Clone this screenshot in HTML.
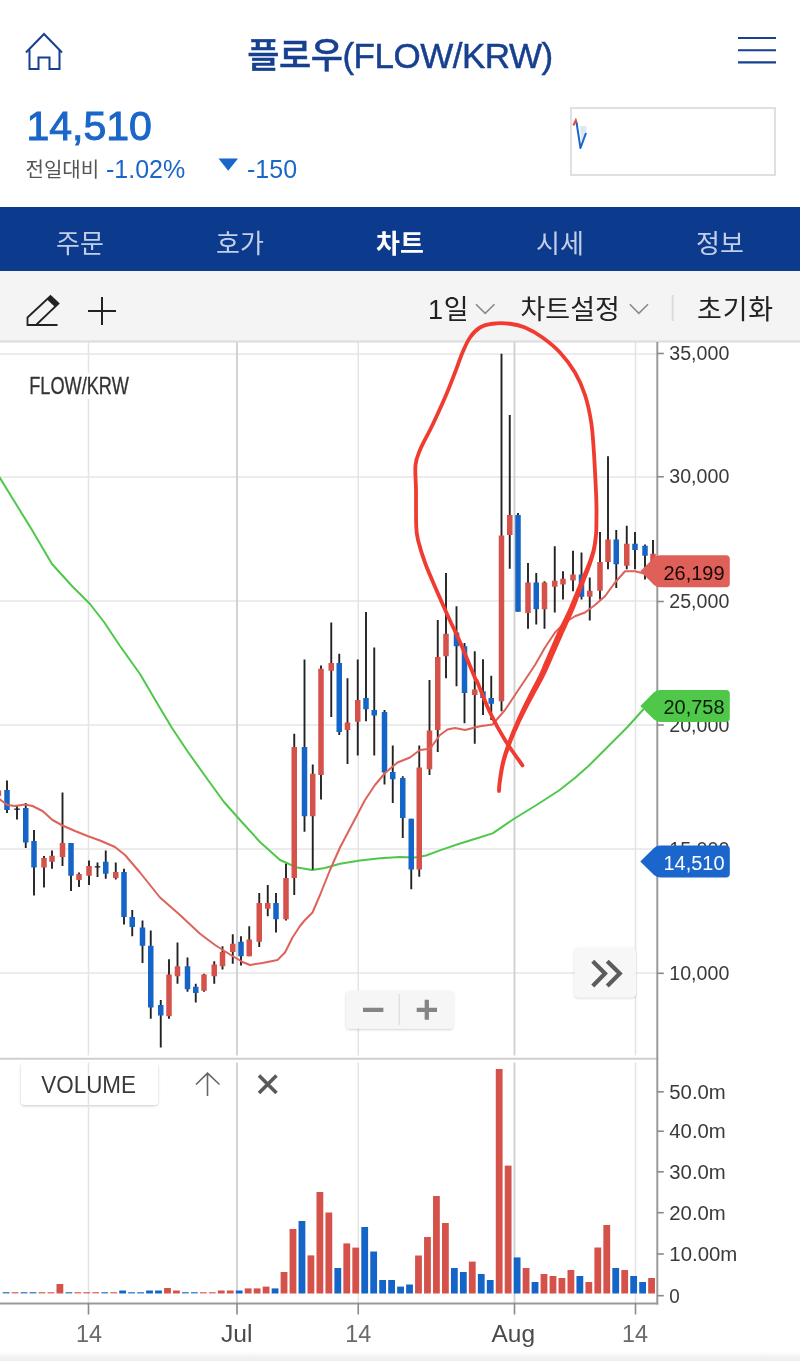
<!DOCTYPE html>
<html lang="ko"><head><meta charset="utf-8"><title>플로우(FLOW/KRW)</title>
<style>
*{margin:0;padding:0;box-sizing:border-box}
html,body{width:800px;height:1361px;background:#fff;overflow:hidden}
body{position:relative;font-family:"Liberation Sans","Noto Sans CJK KR",sans-serif;color:#222}
.abs{position:absolute;white-space:nowrap;line-height:1}
#title{left:0;width:800px;top:37.5px;text-align:center;font-size:35px;color:#17408f;font-weight:500;letter-spacing:-0.5px;-webkit-text-stroke:0.5px #17408f}
#price{left:26.5px;top:106px;font-size:41px;color:#1a66c9;-webkit-text-stroke:1px #1a66c9}
#lbl{left:25.5px;top:159.5px;font-size:20px;color:#555;letter-spacing:0px}
#pct{left:106px;top:157px;font-size:25px;color:#1a66c9}
#chg{left:247px;top:157px;font-size:25px;color:#1a66c9}
#nav{left:0;top:207px;width:800px;height:64px;background:#0c3a8d}
#nav span{position:absolute;top:22.5px;width:160px;text-align:center;font-size:26px;color:#c3cfe8;line-height:1.15}
#nav span.on{color:#fff;font-weight:bold}
#tool{left:0;top:271px;width:800px;height:70px;background:#f4f4f4}
#tool span{position:absolute;top:23.5px;font-size:27px;color:#222;line-height:1.15}
#mini{left:570px;top:107px;width:206px;height:69px;border:2px solid #e0e0e0;background:#fff}
.btn{background:#f6f6f6;border-radius:4px;box-shadow:0 1px 3px rgba(0,0,0,.22)}
#foot{left:0;top:1352px;width:800px;height:9px;background:linear-gradient(#ffffff,#f3f3f3 50%,#eeeeee)}
svg{position:absolute;left:0;top:0}
</style></head><body>
<div class="abs" id="title">플로우(FLOW/KRW)</div>
<div class="abs" id="price">14,510</div>
<div class="abs" id="lbl">전일대비</div>
<div class="abs" id="pct">-1.02%</div>
<div class="abs" id="chg">-150</div>
<div class="abs" id="mini"></div>
<div class="abs" id="nav"><span style="left:0">주문</span><span style="left:160px">호가</span><span class="on" style="left:320px">차트</span><span style="left:480px">시세</span><span style="left:640px">정보</span></div>
<div class="abs" id="tool"><span style="left:428px;letter-spacing:0.8px">1일</span><span style="left:520.5px">차트설정</span><span style="left:697px;letter-spacing:0.8px">초기화</span></div>
<div class="abs btn" style="left:21px;top:1063px;width:137px;height:42px;background:rgba(255,255,255,.82)"></div>
<div class="abs" id="foot"></div>
<svg width="800" height="1361" viewBox="0 0 800 1361">
<!-- header icons -->
<g fill="none" stroke="#17408f" stroke-width="2" stroke-linejoin="miter">
<path d="M26 52.5 L44 34 L62 52.5"/>
<path d="M29.5 50 V69 H38.5 V57.5 H49.5 V69 H59.5 V50"/>
<path d="M738 38 H776 M738 50.2 H776 M738 62.4 H776" stroke-width="2.1"/>
</g>
<path d="M218.5 158.6 H238 L228.2 170.8 Z" fill="#1a66c9"/>
<!-- mini chart -->
<path d="M580 126 H586.5 V133 L582 146 Z" fill="#dbe8f6"/>
<path d="M573.3 125.5 L575.8 120.3 L577 124" stroke="#d5524b" stroke-width="2" fill="none"/>
<path d="M576.6 123 L580.5 148 L586 133" stroke="#1a66c9" stroke-width="2" fill="none" stroke-linejoin="round"/>
<!-- toolbar icons -->
<g fill="none" stroke="#222" stroke-width="2">
<path d="M27.5 325 V317.5 L50.5 296 L58.5 303.5 L36 325 Z M36 325 H57.5" stroke-width="1.8"/>
<path d="M88 311 H116 M102 297 V325"/>
</g>
<path d="M47 299.5 L51 296 L58.5 303.5 L55 307 Z" fill="#222"/>
<g fill="none" stroke="#8a8a8a" stroke-width="1.6">
<path d="M476 304.3 L485.2 313.3 L494.5 304.3"/>
<path d="M629.8 304.3 L638.8 313.3 L648 304.3"/>
</g>
<line x1="672.7" y1="295" x2="672.7" y2="321" stroke="#dcdcdc" stroke-width="2"/>
<line x1="0" y1="354" x2="657" y2="354" stroke="#e6e6e6" stroke-width="1.5"/>
<line x1="0" y1="477" x2="657" y2="477" stroke="#e6e6e6" stroke-width="1.5"/>
<line x1="0" y1="601" x2="657" y2="601" stroke="#e6e6e6" stroke-width="1.5"/>
<line x1="0" y1="725" x2="657" y2="725" stroke="#e6e6e6" stroke-width="1.5"/>
<line x1="0" y1="849" x2="657" y2="849" stroke="#e6e6e6" stroke-width="1.5"/>
<line x1="0" y1="973" x2="657" y2="973" stroke="#e6e6e6" stroke-width="1.5"/>
<line x1="88.5" y1="342" x2="88.5" y2="1303" stroke="#e4e4e4" stroke-width="1.5"/>
<line x1="237" y1="342" x2="237" y2="1303" stroke="#cfcfcf" stroke-width="1.8"/>
<line x1="358.25" y1="342" x2="358.25" y2="1303" stroke="#e4e4e4" stroke-width="1.5"/>
<line x1="514.5" y1="342" x2="514.5" y2="1303" stroke="#cfcfcf" stroke-width="1.8"/>
<line x1="635.5" y1="342" x2="635.5" y2="1303" stroke="#e4e4e4" stroke-width="1.5"/>
<rect x="0" y="1055.5" width="657" height="7" fill="#fff"/>
<line x1="0" y1="1058.8" x2="657" y2="1058.8" stroke="#cfcfcf" stroke-width="2"/>
<line x1="0" y1="341.5" x2="800" y2="341.5" stroke="#dcdcdc" stroke-width="2"/>
<polyline points="-2,475 0,478 16,504 32,530 52,564 72,586 90,604 104,622 120,646 140,674 160,708 172,728 188,752 208,780 224,802 240,820 260,842 280,860 296,867.2 312,870 325,868 340,863.75 360,860.5 380,858.25 400,857 415,857.5 426,855.5 442,849.6 458.5,844 474.7,839 492.6,833.4 513.7,819 536.5,805 559,790.5 575.5,777.5 588.5,766 601.5,753 614.5,740 627.5,727 640.5,712.5 645,707.6" fill="none" stroke="#4fc84a" stroke-width="2" stroke-linejoin="round"/>
<line x1="-1.6" y1="788" x2="-1.6" y2="800" stroke="#222" stroke-width="1.9"/>
<rect x="-4.35" y="790.5" width="5.5" height="5.5" fill="#d5524b"/>
<line x1="7" y1="780.5" x2="7" y2="813" stroke="#222" stroke-width="1.9"/>
<rect x="4.25" y="790" width="5.5" height="20" fill="#1565c8"/>
<line x1="17" y1="806" x2="17" y2="819.5" stroke="#222" stroke-width="1.9"/>
<rect x="14.25" y="808.5" width="5.5" height="1.3" fill="#222"/>
<line x1="25.75" y1="803" x2="25.75" y2="848" stroke="#222" stroke-width="1.9"/>
<rect x="23.0" y="808" width="5.5" height="34.5" fill="#1565c8"/>
<line x1="34" y1="830" x2="34" y2="895.5" stroke="#222" stroke-width="1.9"/>
<rect x="31.25" y="841" width="5.5" height="26.5" fill="#1565c8"/>
<line x1="44" y1="856" x2="44" y2="887.5" stroke="#222" stroke-width="1.9"/>
<rect x="41.25" y="858" width="5.5" height="9.5" fill="#d5524b"/>
<line x1="52" y1="850.5" x2="52" y2="868.75" stroke="#222" stroke-width="1.9"/>
<rect x="49.25" y="855.75" width="5.5" height="6" fill="#d5524b"/>
<line x1="62.5" y1="792.5" x2="62.5" y2="866" stroke="#222" stroke-width="1.9"/>
<rect x="59.75" y="843" width="5.5" height="14" fill="#d5524b"/>
<line x1="71" y1="843" x2="71" y2="891" stroke="#222" stroke-width="1.9"/>
<rect x="68.25" y="843" width="5.5" height="32.75" fill="#1565c8"/>
<line x1="79" y1="872.5" x2="79" y2="887" stroke="#222" stroke-width="1.9"/>
<rect x="76.25" y="874" width="5.5" height="6" fill="#d5524b"/>
<line x1="89" y1="860.5" x2="89" y2="885" stroke="#222" stroke-width="1.9"/>
<rect x="86.25" y="866" width="5.5" height="9.75" fill="#d5524b"/>
<line x1="97.5" y1="862.5" x2="97.5" y2="877" stroke="#222" stroke-width="1.9"/>
<rect x="94.75" y="866.2" width="5.5" height="1.3" fill="#222"/>
<line x1="105.75" y1="850.5" x2="105.75" y2="878.75" stroke="#222" stroke-width="1.9"/>
<rect x="103.0" y="861.75" width="5.5" height="12" fill="#1565c8"/>
<line x1="115.75" y1="862.5" x2="115.75" y2="879.5" stroke="#222" stroke-width="1.9"/>
<rect x="113.0" y="872" width="5.5" height="6" fill="#d5524b"/>
<line x1="124" y1="868.75" x2="124" y2="924.5" stroke="#222" stroke-width="1.9"/>
<rect x="121.25" y="872" width="5.5" height="45" fill="#1565c8"/>
<line x1="132.25" y1="910" x2="132.25" y2="936.25" stroke="#222" stroke-width="1.9"/>
<rect x="129.5" y="917" width="5.5" height="10" fill="#1565c8"/>
<line x1="142.5" y1="920.5" x2="142.5" y2="963" stroke="#222" stroke-width="1.9"/>
<rect x="139.75" y="927.5" width="5.5" height="18.25" fill="#1565c8"/>
<line x1="150.75" y1="930.5" x2="150.75" y2="1018.75" stroke="#222" stroke-width="1.9"/>
<rect x="148.0" y="945.75" width="5.5" height="61.75" fill="#1565c8"/>
<line x1="160.75" y1="1000" x2="160.75" y2="1047.5" stroke="#222" stroke-width="1.9"/>
<rect x="158.0" y="1005" width="5.5" height="10.5" fill="#1565c8"/>
<line x1="169" y1="959.25" x2="169" y2="1018.75" stroke="#222" stroke-width="1.9"/>
<rect x="166.25" y="974.5" width="5.5" height="41.75" fill="#d5524b"/>
<line x1="177.5" y1="942.5" x2="177.5" y2="983.75" stroke="#222" stroke-width="1.9"/>
<rect x="174.75" y="966.25" width="5.5" height="10" fill="#d5524b"/>
<line x1="187.5" y1="957.5" x2="187.5" y2="991.75" stroke="#222" stroke-width="1.9"/>
<rect x="184.75" y="966.25" width="5.5" height="23" fill="#1565c8"/>
<line x1="195.75" y1="983.75" x2="195.75" y2="1002.5" stroke="#222" stroke-width="1.9"/>
<rect x="193.0" y="986.75" width="5.5" height="6.25" fill="#1565c8"/>
<line x1="204" y1="973.75" x2="204" y2="991.75" stroke="#222" stroke-width="1.9"/>
<rect x="201.25" y="974.5" width="5.5" height="16.25" fill="#d5524b"/>
<line x1="214.25" y1="961.25" x2="214.25" y2="983.75" stroke="#222" stroke-width="1.9"/>
<rect x="211.5" y="964.5" width="5.5" height="11.75" fill="#d5524b"/>
<line x1="222.5" y1="946.25" x2="222.5" y2="969.5" stroke="#222" stroke-width="1.9"/>
<rect x="219.75" y="952" width="5.5" height="14.25" fill="#d5524b"/>
<line x1="232.75" y1="934.25" x2="232.75" y2="963.75" stroke="#222" stroke-width="1.9"/>
<rect x="230.0" y="943.75" width="5.5" height="8.25" fill="#d5524b"/>
<line x1="241" y1="936.25" x2="241" y2="965.5" stroke="#222" stroke-width="1.9"/>
<rect x="238.25" y="941.75" width="5.5" height="14.5" fill="#1565c8"/>
<line x1="249.25" y1="926.25" x2="249.25" y2="956.25" stroke="#222" stroke-width="1.9"/>
<rect x="246.5" y="939.5" width="5.5" height="16.75" fill="#d5524b"/>
<line x1="259.25" y1="893" x2="259.25" y2="947" stroke="#222" stroke-width="1.9"/>
<rect x="256.5" y="903" width="5.5" height="38.75" fill="#d5524b"/>
<line x1="267.75" y1="885" x2="267.75" y2="916.25" stroke="#222" stroke-width="1.9"/>
<rect x="265.0" y="903" width="5.5" height="5.75" fill="#d5524b"/>
<line x1="276" y1="893" x2="276" y2="932.5" stroke="#222" stroke-width="1.9"/>
<rect x="273.25" y="903" width="5.5" height="16.25" fill="#1565c8"/>
<line x1="286" y1="863.75" x2="286" y2="920.5" stroke="#222" stroke-width="1.9"/>
<rect x="283.25" y="878" width="5.5" height="41.25" fill="#d5524b"/>
<line x1="294.25" y1="733.75" x2="294.25" y2="895" stroke="#222" stroke-width="1.9"/>
<rect x="291.5" y="747" width="5.5" height="131" fill="#d5524b"/>
<line x1="304.5" y1="659.5" x2="304.5" y2="831.75" stroke="#222" stroke-width="1.9"/>
<rect x="301.75" y="747" width="5.5" height="69.25" fill="#1565c8"/>
<line x1="312.75" y1="764.5" x2="312.75" y2="869.5" stroke="#222" stroke-width="1.9"/>
<rect x="310.0" y="773.75" width="5.5" height="42.5" fill="#d5524b"/>
<line x1="321" y1="665.5" x2="321" y2="799.5" stroke="#222" stroke-width="1.9"/>
<rect x="318.25" y="668.75" width="5.5" height="106.25" fill="#d5524b"/>
<line x1="331.25" y1="622.5" x2="331.25" y2="717" stroke="#222" stroke-width="1.9"/>
<rect x="328.5" y="663" width="5.5" height="7.75" fill="#d5524b"/>
<line x1="339.25" y1="653.75" x2="339.25" y2="735" stroke="#222" stroke-width="1.9"/>
<rect x="336.5" y="663" width="5.5" height="69" fill="#1565c8"/>
<line x1="347.5" y1="678.25" x2="347.5" y2="764" stroke="#222" stroke-width="1.9"/>
<rect x="344.75" y="722.5" width="5.5" height="7.5" fill="#d5524b"/>
<line x1="357.75" y1="659.5" x2="357.75" y2="755.5" stroke="#222" stroke-width="1.9"/>
<rect x="355.0" y="700" width="5.5" height="21.75" fill="#d5524b"/>
<line x1="366" y1="612" x2="366" y2="721.25" stroke="#222" stroke-width="1.9"/>
<rect x="363.25" y="698" width="5.5" height="11.25" fill="#1565c8"/>
<line x1="374.25" y1="647.5" x2="374.25" y2="755.5" stroke="#222" stroke-width="1.9"/>
<rect x="371.5" y="710" width="5.5" height="5.5" fill="#1565c8"/>
<line x1="384.5" y1="710" x2="384.5" y2="784.5" stroke="#222" stroke-width="1.9"/>
<rect x="381.75" y="712" width="5.5" height="60.5" fill="#1565c8"/>
<line x1="392.75" y1="745.5" x2="392.75" y2="803" stroke="#222" stroke-width="1.9"/>
<rect x="390.0" y="772" width="5.5" height="7.25" fill="#1565c8"/>
<line x1="402.75" y1="776.25" x2="402.75" y2="838" stroke="#222" stroke-width="1.9"/>
<rect x="400.0" y="778" width="5.5" height="40" fill="#1565c8"/>
<line x1="411.25" y1="818.75" x2="411.25" y2="889.25" stroke="#222" stroke-width="1.9"/>
<rect x="408.5" y="818.75" width="5.5" height="50.75" fill="#1565c8"/>
<line x1="419.25" y1="745.5" x2="419.25" y2="876.75" stroke="#222" stroke-width="1.9"/>
<rect x="416.5" y="767.5" width="5.5" height="102" fill="#d5524b"/>
<line x1="429.5" y1="680" x2="429.5" y2="775" stroke="#222" stroke-width="1.9"/>
<rect x="426.75" y="730.5" width="5.5" height="38.75" fill="#d5524b"/>
<line x1="437.75" y1="620" x2="437.75" y2="752" stroke="#222" stroke-width="1.9"/>
<rect x="435.0" y="657" width="5.5" height="73" fill="#d5524b"/>
<line x1="446" y1="573" x2="446" y2="678.25" stroke="#222" stroke-width="1.9"/>
<rect x="443.25" y="633.75" width="5.5" height="22.5" fill="#d5524b"/>
<line x1="456.5" y1="606.25" x2="456.5" y2="686.25" stroke="#222" stroke-width="1.9"/>
<rect x="453.75" y="632.5" width="5.5" height="13.75" fill="#1565c8"/>
<line x1="464.5" y1="643" x2="464.5" y2="723.25" stroke="#222" stroke-width="1.9"/>
<rect x="461.75" y="646.25" width="5.5" height="46.75" fill="#1565c8"/>
<line x1="474.75" y1="651.25" x2="474.75" y2="743.75" stroke="#222" stroke-width="1.9"/>
<rect x="472.0" y="689.5" width="5.5" height="5.5" fill="#d5524b"/>
<line x1="483" y1="659.25" x2="483" y2="715" stroke="#222" stroke-width="1.9"/>
<rect x="480.25" y="691.25" width="5.5" height="6.75" fill="#1565c8"/>
<line x1="491.25" y1="675.75" x2="491.25" y2="720" stroke="#222" stroke-width="1.9"/>
<rect x="488.5" y="698" width="5.5" height="5.75" fill="#1565c8"/>
<line x1="501.5" y1="353.75" x2="501.5" y2="711.25" stroke="#222" stroke-width="1.9"/>
<rect x="498.75" y="535.5" width="5.5" height="165.75" fill="#d5524b"/>
<line x1="509.75" y1="415" x2="509.75" y2="568.75" stroke="#222" stroke-width="1.9"/>
<rect x="507.0" y="515" width="5.5" height="20" fill="#d5524b"/>
<line x1="518" y1="513" x2="518" y2="611.75" stroke="#222" stroke-width="1.9"/>
<rect x="515.25" y="515" width="5.5" height="96.75" fill="#1565c8"/>
<line x1="528" y1="563" x2="528" y2="628.75" stroke="#222" stroke-width="1.9"/>
<rect x="525.25" y="582.5" width="5.5" height="30.5" fill="#d5524b"/>
<line x1="536.25" y1="573" x2="536.25" y2="624.5" stroke="#222" stroke-width="1.9"/>
<rect x="533.5" y="582.5" width="5.5" height="26.75" fill="#1565c8"/>
<line x1="544.5" y1="581.25" x2="544.5" y2="628.75" stroke="#222" stroke-width="1.9"/>
<rect x="541.75" y="582.5" width="5.5" height="26.75" fill="#d5524b"/>
<line x1="554.75" y1="546.25" x2="554.75" y2="612.5" stroke="#222" stroke-width="1.9"/>
<rect x="552.0" y="580.75" width="5.5" height="6" fill="#d5524b"/>
<line x1="563" y1="571.25" x2="563" y2="599.5" stroke="#222" stroke-width="1.9"/>
<rect x="560.25" y="578.75" width="5.5" height="5.75" fill="#d5524b"/>
<line x1="573" y1="550.75" x2="573" y2="591.25" stroke="#222" stroke-width="1.9"/>
<rect x="570.25" y="574.5" width="5.5" height="6" fill="#d5524b"/>
<line x1="581.5" y1="552.5" x2="581.5" y2="599.5" stroke="#222" stroke-width="1.9"/>
<rect x="578.75" y="574.5" width="5.5" height="22.25" fill="#1565c8"/>
<line x1="589.75" y1="577.5" x2="589.75" y2="620.5" stroke="#222" stroke-width="1.9"/>
<rect x="587.0" y="590.75" width="5.5" height="6" fill="#d5524b"/>
<line x1="600" y1="532" x2="600" y2="599.5" stroke="#222" stroke-width="1.9"/>
<rect x="597.25" y="562" width="5.5" height="28.75" fill="#d5524b"/>
<line x1="608" y1="456.25" x2="608" y2="569.25" stroke="#222" stroke-width="1.9"/>
<rect x="605.25" y="539.5" width="5.5" height="22.5" fill="#d5524b"/>
<line x1="616.25" y1="530" x2="616.25" y2="588" stroke="#222" stroke-width="1.9"/>
<rect x="613.5" y="539.5" width="5.5" height="24.75" fill="#1565c8"/>
<line x1="626.75" y1="525.75" x2="626.75" y2="569.25" stroke="#222" stroke-width="1.9"/>
<rect x="624.0" y="543.75" width="5.5" height="22" fill="#d5524b"/>
<line x1="635" y1="532" x2="635" y2="569.25" stroke="#222" stroke-width="1.9"/>
<rect x="632.25" y="543.75" width="5.5" height="6.25" fill="#1565c8"/>
<line x1="645" y1="544.5" x2="645" y2="579.5" stroke="#222" stroke-width="1.9"/>
<rect x="642.25" y="545.75" width="5.5" height="10" fill="#1565c8"/>
<line x1="653" y1="540" x2="653" y2="575" stroke="#222" stroke-width="1.9"/>
<rect x="650.25" y="553.75" width="5.5" height="18.25" fill="#d5524b"/>
<polyline points="-2,798 0,799.5 7.5,805 15,806 25,804.5 32.5,806 42.5,811 52.5,820 62.5,825.5 75,831 87.5,836 100,840.5 115,847 125,855 140,872.5 150,885 160,897.5 180,915 200,933.75 215,945 230,954.5 242.5,962 250,965 262.5,963 277.5,960 285,952.5 292.5,937.5 300,926 305,920 312.5,912.5 320,895 330,870 340,847.5 352.5,823.75 365,800 375,785 385,773 397.5,762.5 410,757.5 420,750 430,748.75 440,735 447.5,729.5 455,728 465,730 480,726.25 492.5,724.5 505,710 515,695 525,680 535,665 545,647.5 555,632.5 565,622.5 575,616.25 585,612.5 595,605 605,596.25 615,582.5 625,571.25 635,571.25 645,573.75 652,572" fill="none" stroke="#de6259" stroke-width="2" stroke-linejoin="round"/>
<rect x="2.70" y="1292" width="6.8" height="1.5" fill="#1565c8" opacity="0.75"/>
<rect x="11.66" y="1292" width="6.8" height="1.5" fill="#d5524b" opacity="0.75"/>
<rect x="20.63" y="1292" width="6.8" height="1.5" fill="#1565c8" opacity="0.75"/>
<rect x="29.59" y="1292" width="6.8" height="1.5" fill="#1565c8" opacity="0.75"/>
<rect x="38.56" y="1292" width="6.8" height="1.5" fill="#d5524b" opacity="0.75"/>
<rect x="47.53" y="1292" width="6.8" height="1.5" fill="#d5524b" opacity="0.75"/>
<rect x="56.49" y="1284" width="6.8" height="9.5" fill="#d5524b"/>
<rect x="65.45" y="1292" width="6.8" height="1.5" fill="#1565c8" opacity="0.75"/>
<rect x="74.42" y="1292" width="6.8" height="1.5" fill="#d5524b" opacity="0.75"/>
<rect x="83.38" y="1292" width="6.8" height="1.5" fill="#d5524b" opacity="0.75"/>
<rect x="92.35" y="1292" width="6.8" height="1.5" fill="#d5524b" opacity="0.75"/>
<rect x="101.31" y="1292" width="6.8" height="1.5" fill="#1565c8" opacity="0.75"/>
<rect x="110.28" y="1292" width="6.8" height="1.5" fill="#d5524b" opacity="0.75"/>
<rect x="119.24" y="1290.5" width="6.8" height="3" fill="#1565c8"/>
<rect x="128.21" y="1292" width="6.8" height="1.5" fill="#1565c8" opacity="0.75"/>
<rect x="137.17" y="1292" width="6.8" height="1.5" fill="#1565c8" opacity="0.75"/>
<rect x="146.14" y="1290.5" width="6.8" height="3" fill="#1565c8"/>
<rect x="155.10" y="1290.5" width="6.8" height="3" fill="#1565c8"/>
<rect x="164.07" y="1288" width="6.8" height="5.5" fill="#d5524b"/>
<rect x="173.03" y="1290.5" width="6.8" height="3" fill="#d5524b"/>
<rect x="182.00" y="1292" width="6.8" height="1.5" fill="#1565c8" opacity="0.75"/>
<rect x="190.96" y="1292" width="6.8" height="1.5" fill="#1565c8" opacity="0.75"/>
<rect x="199.93" y="1292" width="6.8" height="1.5" fill="#d5524b" opacity="0.75"/>
<rect x="208.89" y="1292" width="6.8" height="1.5" fill="#d5524b" opacity="0.75"/>
<rect x="217.86" y="1290.5" width="6.8" height="3" fill="#d5524b"/>
<rect x="226.82" y="1290.5" width="6.8" height="3" fill="#d5524b"/>
<rect x="235.79" y="1290.5" width="6.8" height="3" fill="#1565c8"/>
<rect x="244.75" y="1288.4" width="6.8" height="5.1" fill="#d5524b"/>
<rect x="253.72" y="1288.4" width="6.8" height="5.1" fill="#d5524b"/>
<rect x="262.69" y="1286.6" width="6.8" height="6.9" fill="#d5524b"/>
<rect x="271.65" y="1288.4" width="6.8" height="5.1" fill="#1565c8"/>
<rect x="280.62" y="1272" width="6.8" height="21.5" fill="#d5524b"/>
<rect x="289.58" y="1229" width="6.8" height="64.5" fill="#d5524b"/>
<rect x="298.55" y="1221" width="6.8" height="72.5" fill="#1565c8"/>
<rect x="307.51" y="1255.4" width="6.8" height="38.1" fill="#d5524b"/>
<rect x="316.48" y="1192" width="6.8" height="101.5" fill="#d5524b"/>
<rect x="325.44" y="1212.5" width="6.8" height="81" fill="#d5524b"/>
<rect x="334.41" y="1268" width="6.8" height="25.5" fill="#1565c8"/>
<rect x="343.37" y="1243.4" width="6.8" height="50.1" fill="#d5524b"/>
<rect x="352.34" y="1247.6" width="6.8" height="45.9" fill="#d5524b"/>
<rect x="361.30" y="1227" width="6.8" height="66.5" fill="#1565c8"/>
<rect x="370.27" y="1251.5" width="6.8" height="42" fill="#1565c8"/>
<rect x="379.23" y="1280" width="6.8" height="13.5" fill="#1565c8"/>
<rect x="388.20" y="1280" width="6.8" height="13.5" fill="#1565c8"/>
<rect x="397.16" y="1286.6" width="6.8" height="6.9" fill="#1565c8"/>
<rect x="406.13" y="1284.5" width="6.8" height="9" fill="#1565c8"/>
<rect x="415.09" y="1255.5" width="6.8" height="38" fill="#d5524b"/>
<rect x="424.06" y="1237" width="6.8" height="56.5" fill="#d5524b"/>
<rect x="433.02" y="1196" width="6.8" height="97.5" fill="#d5524b"/>
<rect x="441.99" y="1223" width="6.8" height="70.5" fill="#d5524b"/>
<rect x="450.95" y="1268" width="6.8" height="25.5" fill="#1565c8"/>
<rect x="459.92" y="1272" width="6.8" height="21.5" fill="#1565c8"/>
<rect x="468.88" y="1261.6" width="6.8" height="31.9" fill="#d5524b"/>
<rect x="477.85" y="1274" width="6.8" height="19.5" fill="#1565c8"/>
<rect x="486.81" y="1280" width="6.8" height="13.5" fill="#1565c8"/>
<rect x="495.78" y="1069" width="6.8" height="224.5" fill="#d5524b"/>
<rect x="504.74" y="1165.6" width="6.8" height="127.9" fill="#d5524b"/>
<rect x="513.71" y="1257.4" width="6.8" height="36.1" fill="#1565c8"/>
<rect x="522.67" y="1268" width="6.8" height="25.5" fill="#d5524b"/>
<rect x="531.63" y="1282" width="6.8" height="11.5" fill="#1565c8"/>
<rect x="540.60" y="1274" width="6.8" height="19.5" fill="#d5524b"/>
<rect x="549.57" y="1276" width="6.8" height="17.5" fill="#d5524b"/>
<rect x="558.53" y="1278" width="6.8" height="15.5" fill="#d5524b"/>
<rect x="567.50" y="1270" width="6.8" height="23.5" fill="#d5524b"/>
<rect x="576.46" y="1276" width="6.8" height="17.5" fill="#1565c8"/>
<rect x="585.43" y="1282" width="6.8" height="11.5" fill="#d5524b"/>
<rect x="594.39" y="1247.5" width="6.8" height="46" fill="#d5524b"/>
<rect x="603.36" y="1225" width="6.8" height="68.5" fill="#d5524b"/>
<rect x="612.32" y="1268" width="6.8" height="25.5" fill="#1565c8"/>
<rect x="621.29" y="1270" width="6.8" height="23.5" fill="#d5524b"/>
<rect x="630.25" y="1276" width="6.8" height="17.5" fill="#1565c8"/>
<rect x="639.22" y="1282" width="6.8" height="11.5" fill="#1565c8"/>
<rect x="648.18" y="1278" width="6.8" height="15.5" fill="#d5524b"/>
<line x1="657.3" y1="342" x2="657.3" y2="1304.5" stroke="#9a9a9a" stroke-width="2"/>
<line x1="0" y1="1303.6" x2="658.3" y2="1303.6" stroke="#9a9a9a" stroke-width="2"/>
<line x1="88.5" y1="1303" x2="88.5" y2="1314.5" stroke="#8a8a8a" stroke-width="1.6"/>
<line x1="237" y1="1303" x2="237" y2="1314.5" stroke="#8a8a8a" stroke-width="1.6"/>
<line x1="358.25" y1="1303" x2="358.25" y2="1314.5" stroke="#8a8a8a" stroke-width="1.6"/>
<line x1="514.5" y1="1303" x2="514.5" y2="1314.5" stroke="#8a8a8a" stroke-width="1.6"/>
<line x1="635.5" y1="1303" x2="635.5" y2="1314.5" stroke="#8a8a8a" stroke-width="1.6"/>
<line x1="657" y1="353.5" x2="663.8" y2="353.5" stroke="#8a8a8a" stroke-width="1.6"/>
<line x1="657" y1="476.8" x2="663.8" y2="476.8" stroke="#8a8a8a" stroke-width="1.6"/>
<line x1="657" y1="601.5" x2="663.8" y2="601.5" stroke="#8a8a8a" stroke-width="1.6"/>
<line x1="657" y1="725" x2="663.8" y2="725" stroke="#8a8a8a" stroke-width="1.6"/>
<line x1="657" y1="849" x2="663.8" y2="849" stroke="#8a8a8a" stroke-width="1.6"/>
<line x1="657" y1="973.3" x2="663.8" y2="973.3" stroke="#8a8a8a" stroke-width="1.6"/>
<line x1="657" y1="1091.8" x2="663.8" y2="1091.8" stroke="#8a8a8a" stroke-width="1.6"/>
<line x1="657" y1="1131.2" x2="663.8" y2="1131.2" stroke="#8a8a8a" stroke-width="1.6"/>
<line x1="657" y1="1171.8" x2="663.8" y2="1171.8" stroke="#8a8a8a" stroke-width="1.6"/>
<line x1="657" y1="1212.7" x2="663.8" y2="1212.7" stroke="#8a8a8a" stroke-width="1.6"/>
<line x1="657" y1="1254" x2="663.8" y2="1254" stroke="#8a8a8a" stroke-width="1.6"/>
<line x1="657" y1="1295.7" x2="663.8" y2="1295.7" stroke="#8a8a8a" stroke-width="1.6"/>
<text x="669.3" y="360.1" font-family="Liberation Sans, sans-serif" font-size="19.6" fill="#3a3a3a" textLength="60" lengthAdjust="spacingAndGlyphs">35,000</text>
<text x="669.3" y="483.1" font-family="Liberation Sans, sans-serif" font-size="19.6" fill="#3a3a3a" textLength="60" lengthAdjust="spacingAndGlyphs">30,000</text>
<text x="669.3" y="608.4" font-family="Liberation Sans, sans-serif" font-size="19.6" fill="#3a3a3a" textLength="60" lengthAdjust="spacingAndGlyphs">25,000</text>
<text x="669.3" y="732.1" font-family="Liberation Sans, sans-serif" font-size="19.6" fill="#3a3a3a" textLength="60" lengthAdjust="spacingAndGlyphs">20,000</text>
<text x="669.3" y="856.1" font-family="Liberation Sans, sans-serif" font-size="19.6" fill="#3a3a3a" textLength="60" lengthAdjust="spacingAndGlyphs">15,000</text>
<text x="669.3" y="979.9" font-family="Liberation Sans, sans-serif" font-size="19.6" fill="#3a3a3a" textLength="60" lengthAdjust="spacingAndGlyphs">10,000</text>
<text x="669.3" y="1098.8" font-family="Liberation Sans, sans-serif" font-size="19.6" fill="#3a3a3a" textLength="56.5" lengthAdjust="spacingAndGlyphs">50.0m</text>
<text x="669.3" y="1138.2" font-family="Liberation Sans, sans-serif" font-size="19.6" fill="#3a3a3a" textLength="56.5" lengthAdjust="spacingAndGlyphs">40.0m</text>
<text x="669.3" y="1178.8" font-family="Liberation Sans, sans-serif" font-size="19.6" fill="#3a3a3a" textLength="56.5" lengthAdjust="spacingAndGlyphs">30.0m</text>
<text x="669.3" y="1219.7" font-family="Liberation Sans, sans-serif" font-size="19.6" fill="#3a3a3a" textLength="56.5" lengthAdjust="spacingAndGlyphs">20.0m</text>
<text x="669.3" y="1261" font-family="Liberation Sans, sans-serif" font-size="19.6" fill="#3a3a3a" textLength="68" lengthAdjust="spacingAndGlyphs">10.00m</text>
<text x="669.3" y="1302.7" font-family="Liberation Sans, sans-serif" font-size="19.6" fill="#3a3a3a" textLength="10.5" lengthAdjust="spacingAndGlyphs">0</text>
<text x="76" y="1341.5" font-family="Liberation Sans, sans-serif" font-size="23.3" fill="#6a6a6a" textLength="26" lengthAdjust="spacingAndGlyphs">14</text>
<text x="220.95" y="1341.5" font-family="Liberation Sans, sans-serif" font-size="23.3" fill="#4a4a4a" textLength="31.5" lengthAdjust="spacingAndGlyphs">Jul</text>
<text x="345.2" y="1341.5" font-family="Liberation Sans, sans-serif" font-size="23.3" fill="#6a6a6a" textLength="26" lengthAdjust="spacingAndGlyphs">14</text>
<text x="491.55" y="1341.5" font-family="Liberation Sans, sans-serif" font-size="23.3" fill="#4a4a4a" textLength="43.5" lengthAdjust="spacingAndGlyphs">Aug</text>
<text x="622" y="1341.5" font-family="Liberation Sans, sans-serif" font-size="23.3" fill="#6a6a6a" textLength="26" lengthAdjust="spacingAndGlyphs">14</text>
<rect x="26" y="373" width="106" height="26" fill="#fff" fill-opacity="0.8"/>
<text x="29.2" y="393.8" font-family="Liberation Sans, sans-serif" font-size="23.6" fill="#333" stroke="#333" stroke-width="0.3" textLength="99.6" lengthAdjust="spacingAndGlyphs">FLOW/KRW</text>
<path d="M640.3 705.9 L654 692.3 Q656.4 689.9 660.5 689.9 L726 689.9 Q729.8 689.9 729.8 693.7 L729.8 718.1 Q729.8 721.9 726 721.9 L660.5 721.9 Q656.4 721.9 654 719.5 Z" fill="#4fc84a"/>
<text x="663.5" y="714.2" font-family="Liberation Sans, sans-serif" font-size="19.7" fill="#0a1a0a" textLength="61" lengthAdjust="spacingAndGlyphs">20,758</text>
<path d="M640.3 861.5 L654 847.9 Q656.4 845.5 660.5 845.5 L726 845.5 Q729.8 845.5 729.8 849.3 L729.8 873.7 Q729.8 877.5 726 877.5 L660.5 877.5 Q656.4 877.5 654 875.1 Z" fill="#1a66cc"/>
<text x="663.5" y="869.8" font-family="Liberation Sans, sans-serif" font-size="19.7" fill="#fff" textLength="61" lengthAdjust="spacingAndGlyphs">14,510</text>
<path d="M640.3 571.3 L654 557.7 Q656.4 555.3 660.5 555.3 L726 555.3 Q729.8 555.3 729.8 559.1 L729.8 583.5 Q729.8 587.3 726 587.3 L660.5 587.3 Q656.4 587.3 654 584.9 Z" fill="#df6058"/>
<text x="663.5" y="579.6" font-family="Liberation Sans, sans-serif" font-size="19.7" fill="#1a0606" textLength="61" lengthAdjust="spacingAndGlyphs">26,199</text>
<!-- volume label / buttons -->
<text x="41.3" y="1092.8" font-family="Liberation Sans, sans-serif" font-size="24.3" fill="#3a3a3a" textLength="94.7" lengthAdjust="spacingAndGlyphs">VOLUME</text>
<g fill="none" stroke="#666" stroke-width="1.6"><path d="M207.5 1073.5 V1096 M196 1084.5 L207.5 1073.2 L219.5 1084.5"/></g>
<path d="M259 1075.5 L276.5 1093 M276.5 1075.5 L259 1093" stroke="#5a5a5a" stroke-width="3.6" fill="none"/>
<defs><filter id="sh" x="-10%" y="-10%" width="120%" height="135%"><feDropShadow dx="0" dy="1" stdDeviation="1.1" flood-color="#000" flood-opacity="0.2"/></filter></defs>
<rect x="346" y="990.5" width="107.3" height="38.3" rx="4" fill="#f7f7f7" fill-opacity="0.96" filter="url(#sh)"/>
<rect x="574.4" y="947.5" width="61.6" height="49.8" rx="4" fill="#f8f8f8" fill-opacity="0.97" filter="url(#sh)"/>
<line x1="399.3" y1="994" x2="399.3" y2="1025" stroke="#e0e0e0" stroke-width="1.5"/>
<path d="M363 1009.8 H383.4 M416.7 1009.8 H437 M426.8 999.8 V1019.8" stroke="#858585" stroke-width="4.3" fill="none"/>
<path d="M592.75 961.25 L605 973.5 L592.75 986 M607.25 961.25 L619.75 973.5 L607.25 986" stroke="#5c5c5c" stroke-width="4.2" fill="none"/>
<path d="M522.5 765.5 C519.6 761.2 510.4 748.8 505 740 C499.6 731.2 494.6 722.1 490 712.5 C485.4 702.9 480.0 688.2 477.5 682.5 C475.0 676.8 477.9 684.8 475 678 C472.1 671.2 464.2 651.8 460 642 C455.8 632.2 453.2 627.8 449.5 619.5 C445.8 611.2 441.5 601.8 437.5 592.5 C433.5 583.2 428.8 572.8 425.5 564 C422.2 555.2 419.6 546.5 418 540 C416.4 533.5 416.5 533.3 416.2 525 C415.9 516.7 416.1 500.0 416 490 C415.9 480.0 414.8 471.7 415.5 465 C416.2 458.3 417.2 456.7 420 450 C422.8 443.3 428.3 433.8 432.5 425 C436.7 416.2 441.2 406.2 445 397.5 C448.8 388.8 452.1 380.0 455 372.5 C457.9 365.0 460.0 358.3 462.5 352.5 C465.0 346.7 467.1 341.7 470 337.5 C472.9 333.3 476.2 329.8 480 327.5 C483.8 325.2 487.5 324.4 492.5 323.75 C497.5 323.1 504.6 323.1 510 323.75 C515.4 324.4 519.6 325.2 525 327.5 C530.4 329.8 536.7 333.3 542.5 337.5 C548.3 341.7 554.6 346.7 560 352.5 C565.4 358.3 570.8 365.4 575 372.5 C579.2 379.6 582.3 386.7 585 395 C587.7 403.3 589.8 413.3 591.25 422.5 C592.7 431.7 593.0 439.6 593.75 450 C594.5 460.4 595.2 475.3 595.7 485 C596.2 494.7 596.4 500.2 596.5 508 C596.6 515.8 596.3 528.0 596.3 532" fill="none" stroke="#f03c30" stroke-width="3.8" stroke-linecap="round" stroke-linejoin="round"/>
<path d="M594.4 531.8 L594.3 533.0 L594.1 534.7 L593.8 536.7 L593.6 538.8 L593.3 541.1 L593.0 543.4 L592.6 545.6 L592.2 547.6 L591.8 549.4 L591.4 551.2 L590.9 552.8 L590.4 554.5 L589.8 556.3 L589.2 558.1 L588.5 560.1 L587.7 562.3 L586.8 564.6 L585.8 567.1 L584.7 569.7 L583.5 572.5 L582.3 575.3 L581.1 578.2 L579.8 581.1 L578.6 584.0 L577.4 587.0 L576.1 590.1 L574.9 593.2 L573.6 596.3 L572.3 599.5 L571.0 602.6 L569.7 605.8 L568.3 608.9 L567.0 611.9 L565.5 615.0 L564.1 618.0 L562.6 621.1 L561.1 624.1 L559.6 627.3 L558.1 630.5 L556.6 633.7 L555.1 637.1 L553.5 640.7 L551.9 644.4 L550.3 648.2 L548.7 651.8 L547.2 655.2 L545.9 658.4 L544.6 661.2 L543.6 663.6 L542.8 665.5 L542.2 667.0 L541.7 668.4 L541.1 669.7 L540.4 671.3 L539.5 673.2 L538.3 675.7 L536.8 678.7 L535.0 682.2 L533.0 686.1 L530.9 690.1 L528.7 694.3 L526.6 698.5 L524.5 702.5 L522.7 706.3 L520.9 710.0 L519.3 713.6 L517.6 717.1 L516.1 720.6 L514.6 724.0 L513.1 727.4 L511.7 730.8 L510.4 734.1 L509.1 737.4 L507.8 740.7 L506.6 744.0 L505.5 747.2 L504.4 750.4 L503.4 753.5 L502.5 756.5 L501.7 759.4 L501.0 762.3 L500.4 765.1 L499.8 767.9 L499.4 770.5 L499.0 773.1 L498.6 775.5 L498.3 777.7 L498.0 779.7 L497.8 781.6 L497.6 783.4 L497.4 785.1 L497.3 786.6 L497.2 788.0 L497.2 789.1 L497.1 790.1 L497.1 790.9 L500.9 791.1 L501.0 790.3 L501.0 789.3 L501.1 788.2 L501.2 786.9 L501.3 785.4 L501.5 783.8 L501.7 782.1 L502.0 780.3 L502.3 778.3 L502.6 776.0 L503.0 773.7 L503.4 771.2 L503.9 768.6 L504.4 766.0 L505.1 763.3 L505.8 760.6 L506.6 757.7 L507.5 754.8 L508.6 751.8 L509.7 748.7 L510.8 745.5 L512.0 742.3 L513.3 739.1 L514.6 735.9 L516.0 732.6 L517.5 729.3 L519.0 726.0 L520.5 722.6 L522.1 719.2 L523.8 715.7 L525.6 712.2 L527.3 708.7 L529.3 704.9 L531.4 701.0 L533.6 696.9 L535.8 692.8 L538.1 688.7 L540.1 684.9 L542.0 681.4 L543.7 678.3 L544.9 675.8 L545.9 673.8 L546.7 672.2 L547.3 670.8 L547.9 669.4 L548.6 667.9 L549.4 666.1 L550.4 663.8 L551.6 660.9 L553.0 657.7 L554.5 654.3 L556.1 650.7 L557.7 647.0 L559.3 643.3 L560.9 639.7 L562.4 636.3 L563.8 633.1 L565.2 629.9 L566.7 626.7 L568.1 623.6 L569.5 620.5 L570.9 617.4 L572.3 614.3 L573.7 611.1 L575.0 608.0 L576.3 604.7 L577.5 601.5 L578.7 598.3 L579.9 595.1 L581.1 592.0 L582.3 588.9 L583.4 586.0 L584.5 583.0 L585.7 580.1 L586.8 577.2 L588.0 574.3 L589.1 571.5 L590.1 568.8 L591.0 566.2 L591.9 563.7 L592.6 561.5 L593.3 559.5 L593.9 557.5 L594.4 555.7 L594.9 553.9 L595.4 552.2 L595.8 550.3 L596.2 548.4 L596.5 546.3 L596.9 544.0 L597.2 541.6 L597.5 539.3 L597.7 537.1 L597.9 535.1 L598.1 533.5 L598.2 532.2 Z" fill="#f03c30"/>
<circle cx="499" cy="791" r="1.9" fill="#f03c30"/>
</svg>
</body></html>
